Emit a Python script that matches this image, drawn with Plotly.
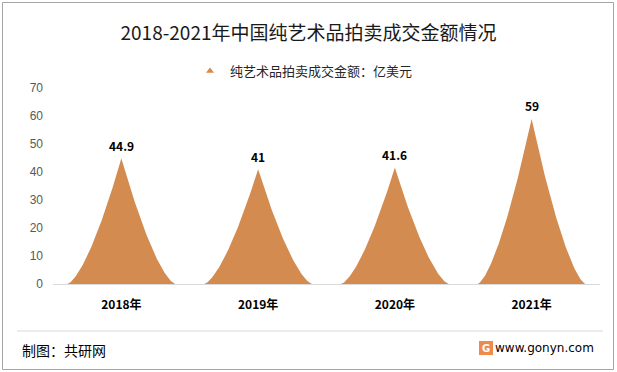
import plotly.graph_objects as go
import numpy as np

categories = ["2018年", "2019年", "2020年", "2021年"]
values = [44.9, 41, 41.6, 59]
value_labels = ["44.9", "41", "41.6", "59"]
series_name = "纯艺术品拍卖成交金额：亿美元"
title_text = "2018-2021年中国纯艺术品拍卖成交金额情况"
y_ticks = [0, 10, 20, 30, 40, 50, 60, 70]

W, H = 617, 372
L, R, T, B = 53, 17, 88, 88
PW, PH = W - L - R, H - T - B
ORANGE = "#D38B50"
FONT = "Noto Sans CJK SC"


def px(x):
    return (x - L) / PW


def py(y):
    return (H - B - y) / PH


fig = go.Figure()

half_w = 0.395
power = 1.5
s = np.linspace(0, 1, 80)
for i, v in enumerate(values):
    xl = i - half_w * (1 - s)
    yl = v * s ** power
    xr = (i + half_w * (1 - s))[::-1]
    yr = yl[::-1]
    fig.add_trace(go.Scatter(
        x=np.concatenate([xl, xr]), y=np.concatenate([yl, yr]),
        mode="lines", fill="toself", fillcolor=ORANGE,
        line=dict(width=0, color=ORANGE), showlegend=False, hoverinfo="skip"))

for i, (v, lab) in enumerate(zip(values, value_labels)):
    fig.add_annotation(x=i, y=v, text=lab, showarrow=False, yshift=13,
                       xanchor="center", yanchor="middle",
                       font=dict(family=FONT, size=12, color="#000000", weight="bold"))

fig.add_trace(go.Scatter(
    x=[None], y=[None], mode="markers", name=series_name,
    marker=dict(symbol="triangle-up", size=7, color=ORANGE)))

fig.update_layout(
    width=W, height=H,
    margin=dict(l=L, r=R, t=T, b=B),
    paper_bgcolor="white", plot_bgcolor="white",
    title=dict(text=title_text, x=0.5, xanchor="center", y=1 - 33 / H, yanchor="middle",
               font=dict(family=FONT, size=19, color="#1a1a1a")),
    legend=dict(orientation="h", x=px(190), xanchor="left", y=py(71), yanchor="middle",
                font=dict(family=FONT, size=13, color="#262626"),
                itemwidth=30, tracegroupgap=0, bgcolor="rgba(0,0,0,0)"),
    xaxis=dict(range=[-0.5, 3.5], tickvals=list(range(len(categories))),
               ticktext=categories, showgrid=False, zeroline=False,
               showline=True, linecolor="#D9D9D9", linewidth=1, ticks="",
               tickfont=dict(family=FONT, size=12, color="#000000", weight="bold"),
               ticklabelstandoff=10, fixedrange=True),
    yaxis=dict(range=[0, 70], tickvals=y_ticks, showgrid=False, zeroline=False,
               showline=False, ticks="",
               tickfont=dict(family="Liberation Sans", size=12, color="#595959"),
               ticklabelstandoff=9, fixedrange=True),
    showlegend=True,
)

# outer border
fig.add_shape(type="rect", xref="paper", yref="paper",
              x0=px(2.5), x1=px(613.5), y0=py(369.5), y1=py(2.5),
              line=dict(color="#A6A6A6", width=1), fillcolor="rgba(0,0,0,0)", layer="below")
# footer separator
fig.add_shape(type="line", xref="paper", yref="paper",
              x0=px(17), x1=px(603), y0=py(331), y1=py(331),
              line=dict(color="#D9D9D9", width=1))
# footer logo
fig.add_shape(type="rect", xref="paper", yref="paper",
              x0=px(479), x1=px(493), y0=py(355), y1=py(341),
              line=dict(width=0), fillcolor="#F08A4B")

fig.add_annotation(x=px(20), y=py(350), xref="paper", yref="paper", text="制图：共研网",
                   showarrow=False, xanchor="left", yanchor="middle",
                   font=dict(family=FONT, size=14, color="#000000"))
fig.add_annotation(x=px(486), y=py(348), xref="paper", yref="paper", text="<b>G</b>",
                   showarrow=False, xanchor="center", yanchor="middle",
                   font=dict(family="DejaVu Sans", size=10, color="#ffffff"))
fig.add_annotation(x=px(596), y=py(348), xref="paper", yref="paper", text="www.gonyn.com",
                   showarrow=False, xanchor="right", yanchor="middle",
                   font=dict(family="DejaVu Sans", size=12, color="#000000"))

fig.write_html("out.html", config={"displayModeBar": False},
               post_script="document.body.style.margin='0';")
